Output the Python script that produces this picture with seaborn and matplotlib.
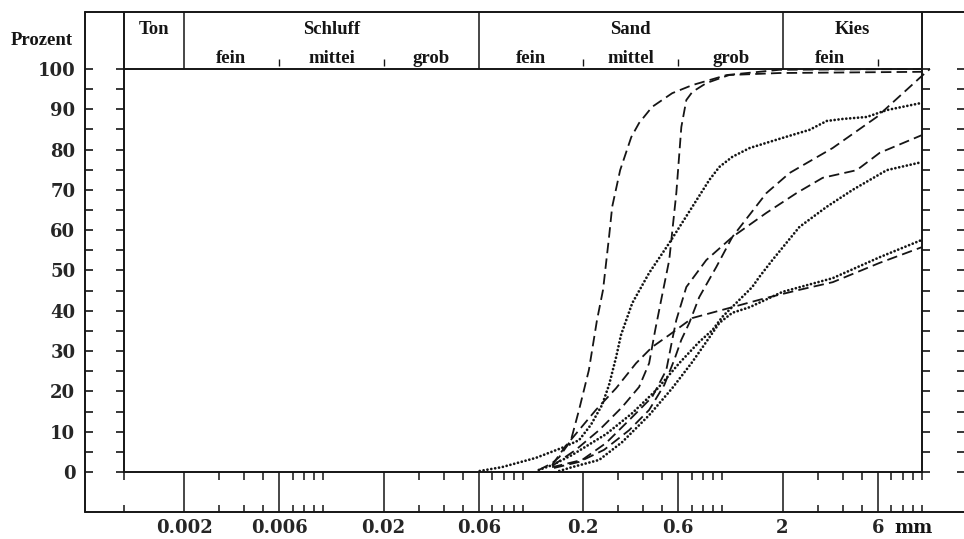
import matplotlib
matplotlib.use("Agg")
import matplotlib.pyplot as plt
from matplotlib.ticker import NullFormatter
import seaborn as sns
import pandas as pd

# grain size (mm) vs. percent passing
d1_mm = [0.120, 0.140, 0.152, 0.174, 0.191, 0.214, 0.235, 0.252, 0.270, 0.280, 0.307, 0.349, 0.382, 0.444, 0.560, 0.706, 1.05, 1.93, 10]
d1_pct = [0.5, 2.2, 3.7, 7.9, 15.4, 25.3, 37.7, 45.2, 58.3, 65.8, 74.9, 83.1, 86.6, 90.6, 94.0, 96.0, 98.5, 99.8, 100]

d2_mm = [0.140, 0.184, 0.241, 0.314, 0.382, 0.429, 0.460, 0.493, 0.541, 0.587, 0.622, 0.659, 0.706, 0.830, 1.08, 1.93, 10]
d2_pct = [1.5, 5.5, 10.4, 16.1, 21.1, 27.0, 35.2, 42.7, 52.6, 69.2, 85.6, 92.3, 94.3, 96.5, 98.5, 99.0, 99.3]

d3_mm = [0.143, 0.191, 0.255, 0.341, 0.429, 0.511, 0.573, 0.622, 0.682, 0.765, 0.932, 1.12, 1.66, 2.17, 3.57, 5.94, 10, 10.96]
d3_pct = [1.0, 2.5, 5.5, 10.4, 15.4, 21.6, 27.8, 32.8, 37.0, 43.4, 50.9, 58.3, 69.2, 74.2, 80.4, 88.1, 98.3, 100]

d4_mm = [0.140, 0.198, 0.261, 0.341, 0.444, 0.523, 0.560, 0.587, 0.659, 0.830, 1.12, 1.66, 2.35, 3.18, 4.71, 6.14, 10]
d4_pct = [1.2, 3.0, 7.2, 12.9, 18.6, 25.3, 32.8, 37.7, 45.9, 52.6, 58.3, 64.3, 69.2, 73.0, 74.9, 79.2, 83.6]

d5_mm = [0.140, 0.161, 0.191, 0.232, 0.293, 0.369, 0.444, 0.541, 0.706, 1.12, 1.66, 2.43, 3.57, 6.14, 10]
d5_pct = [1.7, 6.0, 10.4, 15.4, 20.8, 27.0, 31.0, 34.0, 38.2, 40.9, 43.2, 45.2, 47.1, 51.9, 55.8]

p1_mm = [0.0607, 0.0783, 0.116, 0.157, 0.191, 0.219, 0.249, 0.270, 0.293, 0.310, 0.353, 0.429, 0.541, 0.706, 0.860, 0.965, 1.12, 1.37, 2.00, 2.73, 3.33, 4.00, 5.29, 6.66, 10]
p1_pct = [0.25, 1.2, 3.5, 6.0, 7.9, 11.7, 16.6, 21.6, 28.5, 34.0, 41.9, 49.4, 56.8, 65.8, 72.5, 75.7, 78.2, 80.4, 82.9, 84.9, 87.1, 87.6, 88.1, 89.8, 91.6]

p2_mm = [0.120, 0.140, 0.176, 0.261, 0.353, 0.465, 0.607, 0.765, 0.890, 0.999, 1.17, 1.41, 1.53, 1.78, 2.43, 3.33, 4.49, 6.66, 10]
p2_pct = [0.5, 1.7, 4.2, 9.4, 14.6, 20.3, 27.0, 32.3, 35.2, 38.5, 41.9, 45.9, 48.4, 52.6, 60.8, 65.8, 70.0, 74.9, 76.9]

p3_mm = [0.152, 0.176, 0.241, 0.314, 0.429, 0.560, 0.706, 0.830, 0.965, 1.12, 1.37, 2.00, 3.57, 6.14, 10]
p3_pct = [0.25, 1.2, 3.0, 7.4, 14.1, 20.8, 27.3, 32.3, 37.0, 39.5, 40.9, 44.7, 48.1, 53.3, 57.6]

# axis ticks
x_major = [0.002, 0.006, 0.02, 0.06, 0.2, 0.6, 2, 6]
x_major_labels = ["0.002", "0.006", "0.02", "0.06", "0.2", "0.6", "2", "6"]
x_minor = [0.001, 0.003, 0.004, 0.005, 0.007, 0.008, 0.009, 0.01,
           0.03, 0.04, 0.05, 0.07, 0.08, 0.09, 0.1,
           0.3, 0.4, 0.5, 0.7, 0.8, 0.9, 1,
           3, 4, 5, 7, 8, 9, 10]
y_major = list(range(0, 101, 10))
y_minor = list(range(5, 100, 10))

# header (grain size classes)
class_names = ["Ton", "Schluff", "Sand", "Kies"]
class_centers = [0.00141, 0.011, 0.346, 4.47]
class_bounds = [0.002, 0.06, 2]
sub_names = ["fein", "mittei", "grob", "fein", "mittel", "grob", "fein"]
sub_centers = [0.00346, 0.011, 0.0346, 0.11, 0.346, 1.1, 3.46]
sub_bounds = [0.006, 0.02, 0.2, 0.6, 6]

curves = [("d1", "dash", d1_mm, d1_pct), ("d2", "dash", d2_mm, d2_pct),
          ("d3", "dash", d3_mm, d3_pct), ("d4", "dash", d4_mm, d4_pct),
          ("d5", "dash", d5_mm, d5_pct), ("p1", "dot", p1_mm, p1_pct),
          ("p2", "dot", p2_mm, p2_pct), ("p3", "dot", p3_mm, p3_pct)]
rows = []
for name, kind, xs, ys in curves:
    for x, y in zip(xs, ys):
        rows.append({"curve": name, "kind": kind, "mm": x, "pct": y})
df = pd.DataFrame(rows)

sns.set_style("white")
plt.rcParams["font.family"] = ["DejaVu Serif"]
plt.rcParams["font.weight"] = "bold"

ink = "#151515"
fig = plt.figure(figsize=(9.64, 5.39), dpi=100)
ax = fig.add_axes([0.1286, 0.1243, 0.8278, 0.7477])
ax.set_xscale("log")

for name, sub in df.groupby("curve", sort=False):
    if sub["kind"].iloc[0] == "dash":
        sns.lineplot(data=sub, x="mm", y="pct", ax=ax, color=ink, lw=1.3,
                     linestyle=(0, (5.8, 2.9)), estimator=None, sort=False,
                     clip_on=False)
    else:
        sns.lineplot(data=sub, x="mm", y="pct", ax=ax, color=ink, lw=2.0,
                     linestyle=(0, (0.01, 1.4)), dash_capstyle="round",
                     estimator=None, sort=False, clip_on=False)

ax.set_xlim(0.001, 10)
ax.set_ylim(0, 100)
ax.set_xlabel("")
ax.set_ylabel("")

for s in ax.spines.values():
    s.set_color(ink)
    s.set_linewidth(1.4)

ax.set_xticks(x_major)
ax.set_xticklabels(x_major_labels)
ax.set_xticks(x_minor, minor=True)
ax.xaxis.set_minor_formatter(NullFormatter())
ax.tick_params(axis="x", which="both", bottom=True, top=False)
ax.tick_params(axis="x", which="major", direction="out", length=28.8, width=1.1,
               color=ink, pad=5, labelsize=13)
ax.tick_params(axis="x", which="minor", direction="out", length=5.8, width=1.1, color=ink)

ax.set_yticks(y_major)
ax.set_yticks(y_minor, minor=True)
ax.tick_params(axis="y", which="both", direction="out", length=6, width=1.2,
               color=ink, left=True, right=True, labelright=False)
ax.tick_params(axis="y", which="major", pad=29, labelsize=13)

# outer frame, header and bottom band
left_out, right_out = -0.0489, 1.0551
top, bot = 1.1414, -0.0993
lk = dict(color=ink, lw=1.4, clip_on=False)
ax.plot([left_out, right_out], [top, top], transform=ax.transAxes, **lk)
ax.plot([left_out, right_out], [bot, bot], transform=ax.transAxes, **lk)
ax.plot([left_out, left_out], [bot, top], transform=ax.transAxes, **lk)
ax.plot([right_out, right_out], [bot, top], transform=ax.transAxes, **lk)
ax.vlines([0.001, 10], 1, top, transform=ax.get_xaxis_transform(), **lk)
ax.vlines(class_bounds, 1, top, transform=ax.get_xaxis_transform(), color=ink, lw=1.1, clip_on=False)
ax.vlines(sub_bounds, 1.008, 1.026, transform=ax.get_xaxis_transform(), color=ink, lw=1.0, clip_on=False)
ax.vlines(x_minor, bot, bot + 0.0174, transform=ax.get_xaxis_transform(), color=ink, lw=1.1, clip_on=False)

# outer y ticks
yt = y_major + y_minor
ax.hlines(yt, left_out, left_out + 0.0105, transform=ax.get_yaxis_transform(), color=ink, lw=1.2, clip_on=False)
ax.hlines(yt, right_out - 0.0115, right_out, transform=ax.get_yaxis_transform(), color=ink, lw=1.2, clip_on=False)

hfont = dict(fontfamily="Liberation Serif", fontweight="bold", fontsize=13.5, color=ink)
for name, xc in zip(class_names, class_centers):
    ax.text(xc, 1.087, name, transform=ax.get_xaxis_transform(), ha="center", va="baseline", **hfont)
for name, xc in zip(sub_names, sub_centers):
    ax.text(xc, 1.016, name, transform=ax.get_xaxis_transform(), ha="center", va="baseline", **hfont)

ax.text(-0.064, 1.06, "Prozent", transform=ax.transAxes, ha="right", va="baseline", **hfont)
ax.text(7.3, bot - 0.0172, "mm", transform=ax.get_xaxis_transform(), ha="left", va="top",
        fontsize=13, fontweight="bold", color=ink)

fig.savefig("out.png", dpi=100)
